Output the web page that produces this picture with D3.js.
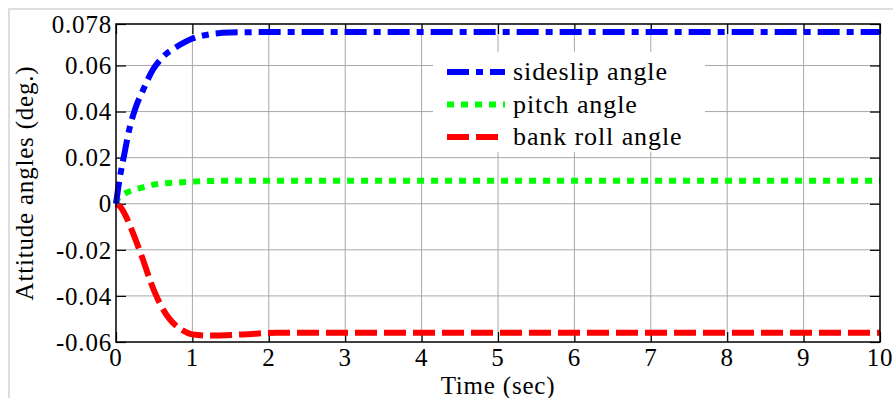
<!DOCTYPE html>
<meta charset="utf-8">
<html>
<head>
  <title>Attitude angles</title>
  <style>
    body { margin: 0; background: #fff; }
    svg { width: 893px; height: 398px; display: block; font-family: 'Liberation Serif', 'Times New Roman', serif; }
    svg text { font-family: 'Liberation Serif', 'Times New Roman', serif; fill: #000; }
    .tick-label { font-size: 25px; letter-spacing: 0.8px; }
    .axislabel { font-size: 25px; text-anchor: middle; letter-spacing: 0.8px; }
    .legend text { font-size: 26px; letter-spacing: 0.9px; }
    .grid line { stroke: #a8a8a8; stroke-width: 1; }
  </style>
  <script src="https://d3js.org/d3.v7.min.js"></script>
</head>
<body>
  <svg></svg>
  <script>
    // time samples (sec) and the three attitude curves
    var time =     [0, 0.05, 0.11, 0.17, 0.26, 0.35, 0.48, 0.61, 0.79, 1.0, 1.22, 1.5, 2, 3, 4, 5, 6, 7, 8, 9, 10];
    var sideslip = [0, 0.0113, 0.0217, 0.0317, 0.042, 0.049, 0.058, 0.0636, 0.068, 0.0717, 0.0735, 0.0743, 0.0745, 0.0745, 0.0745, 0.0745, 0.0745, 0.0745, 0.0745, 0.0745, 0.0745];

    var timeP =  [0, 0.03, 0.11, 0.35, 0.57, 0.87, 1.22, 2, 3, 4, 5, 6, 7, 8, 9, 10];
    var pitch =  [0, 0.0025, 0.0043, 0.0071, 0.0087, 0.0093, 0.0099, 0.01, 0.01, 0.01, 0.01, 0.01, 0.01, 0.01, 0.01, 0.01];

    var timeR = [0, 0.06, 0.13, 0.22, 0.35, 0.46, 0.57, 0.7, 0.85, 1.0, 1.22, 1.66, 2.1, 3, 4, 5, 6, 7, 8, 9, 10];
    var bank =  [0, -0.0015, -0.0055, -0.0125, -0.024, -0.0345, -0.043, -0.05, -0.0545, -0.0567, -0.0572, -0.0567, -0.056, -0.056, -0.056, -0.056, -0.056, -0.056, -0.056, -0.056, -0.056];

    var xTicks = [0, 1, 2, 3, 4, 5, 6, 7, 8, 9, 10];
    var yTicks = [-0.06, -0.04, -0.02, 0, 0.02, 0.04, 0.06, 0.078];
    var yTickLabels = ["-0.06", "-0.04", "-0.02", "0", "0.02", "0.04", "0.06", "0.078"];

    var seriesNames = ["sideslip angle", "pitch angle", "bank roll angle"];
    var seriesColors = ["#0000ff", "#00ff00", "#ff0000"];
    var seriesDash = ["22,7,7,7", "7,7", "22,7"];

    var svg = d3.select("svg");
    var margin = {top: 24, right: 13, bottom: 56, left: 116};
    var width = 893 - margin.left - margin.right;
    var height = 398 - margin.top - margin.bottom;

    // figure border (top and left only visible)
    svg.append("line").attr("x1", 8).attr("x2", 893).attr("y1", 9).attr("y2", 9)
      .attr("stroke", "#dedede").attr("stroke-width", 2);
    svg.append("line").attr("x1", 9).attr("x2", 9).attr("y1", 8).attr("y2", 398)
      .attr("stroke", "#dedede").attr("stroke-width", 2);

    var x = d3.scaleLinear().domain([0, 10]).range([0, width]);
    var y = d3.scaleLinear().domain([-0.06, 0.078]).range([height, 0]);

    var g = svg.append("g")
      .attr("transform", "translate(" + margin.left + "," + margin.top + ")");

    // grid
    var grid = g.append("g").attr("class", "grid");
    grid.selectAll(".gx").data(xTicks.slice(1, -1)).enter().append("line")
      .attr("x1", function(d) { return x(d); }).attr("x2", function(d) { return x(d); })
      .attr("y1", 0).attr("y2", height);
    grid.selectAll(".gy").data(yTicks.slice(1, -1)).enter().append("line")
      .attr("y1", function(d) { return y(d); }).attr("y2", function(d) { return y(d); })
      .attr("x1", 0).attr("x2", width);

    // axes with inward ticks on all four sides
    var fmt = function(d) { return yTickLabels[yTicks.indexOf(d)]; };
    var axL = g.append("g").call(d3.axisRight(y).tickValues(yTicks).tickSize(10).tickFormat(""));
    var axR = g.append("g").attr("transform", "translate(" + width + ",0)")
      .call(d3.axisLeft(y).tickValues(yTicks).tickSize(10).tickFormat(""));
    var axB = g.append("g").attr("transform", "translate(0," + height + ")")
      .call(d3.axisTop(x).tickValues(xTicks).tickSize(10).tickFormat(""));
    var axT = g.append("g")
      .call(d3.axisBottom(x).tickValues(xTicks).tickSize(10).tickFormat(""));
    [axL, axR, axB, axT].forEach(function(a) {
      a.select(".domain").remove();
      a.selectAll(".tick line").attr("stroke", "#000").attr("stroke-width", 1.2);
    });

    // tick labels
    g.selectAll(".ylab").data(yTicks).enter().append("text")
      .attr("class", "tick-label")
      .attr("x", -4).attr("y", function(d) { return y(d); })
      .attr("dy", "0.35em").attr("text-anchor", "end")
      .text(fmt);
    g.selectAll(".xlab").data(xTicks).enter().append("text")
      .attr("class", "tick-label")
      .attr("x", function(d) { return x(d); }).attr("y", height + 24)
      .attr("text-anchor", "middle")
      .text(function(d) { return d; });

    // lines
    var line = d3.line()
      .x(function(d) { return x(d[0]); })
      .y(function(d) { return y(d[1]); })
      .curve(d3.curveMonotoneX);
    var data = [d3.zip(time, sideslip), d3.zip(timeP, pitch), d3.zip(timeR, bank)];

    // draw bank, pitch, sideslip order so blue ends on top
    [2, 1, 0].forEach(function(i) {
      g.append("path")
        .datum(data[i])
        .attr("d", line)
        .attr("fill", "none")
        .attr("stroke", seriesColors[i])
        .attr("stroke-width", 6)
        .attr("stroke-dasharray", seriesDash[i]);
    });

    // axes box
    g.append("rect").attr("width", width).attr("height", height)
      .attr("fill", "none").attr("stroke", "#000").attr("stroke-width", 1.5);

    // legend
    var legend = g.append("g").attr("class", "legend")
      .attr("transform", "translate(" + (433 - margin.left) + "," + (52 - margin.top) + ")");
    legend.append("rect").attr("width", 272).attr("height", 100).attr("fill", "#fff");
    seriesNames.forEach(function(name, i) {
      var row = legend.append("g").attr("transform", "translate(0," + (20 + i * 32.5) + ")");
      row.append("line").attr("x1", 14).attr("x2", 72).attr("y1", 0).attr("y2", 0)
        .attr("stroke", seriesColors[i]).attr("stroke-width", 6)
        .attr("stroke-dasharray", seriesDash[i]);
      row.append("text").attr("x", 80).attr("y", 0).attr("dy", "0.32em").text(name);
    });

    // axis labels
    svg.append("text").attr("class", "axislabel")
      .attr("x", margin.left + width / 2).attr("y", 394)
      .text("Time (sec)");
    svg.append("text").attr("class", "axislabel")
      .attr("transform", "translate(33," + (margin.top + height / 2) + ") rotate(-90)")
      .text("Attitude angles (deg.)");
  </script>
</body>
</html>
